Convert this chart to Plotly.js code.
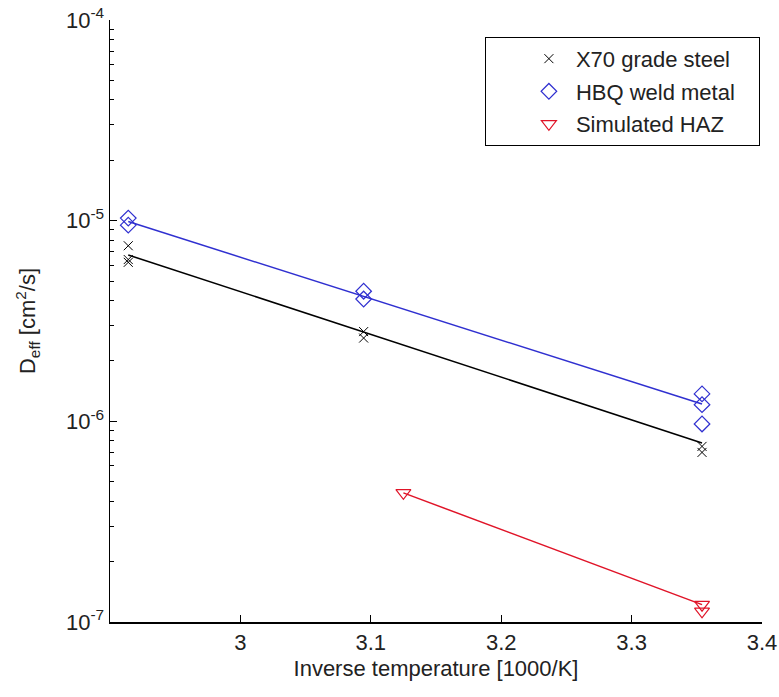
<!DOCTYPE html>
<html>
<head>
<meta charset="utf-8">
<script src="https://cdn.plot.ly/plotly-3.0.1.min.js"></script>
<style>html,body{margin:0;padding:0;background:#fff;}#chart{width:779px;height:697px;}</style>
</head>
<body>
<div id="chart"></div>
<script>
// Inverse temperature [1000/K]
const x70X = [2.914, 2.914, 2.914, 3.0945, 3.0945, 3.354, 3.354];
const x70Y = [7.5e-6, 6.4e-6, 6.2e-6, 2.8e-6, 2.6e-6, 7.5e-7, 7.0e-7];
const hbqX = [2.914, 2.914, 3.0945, 3.0945, 3.354, 3.354, 3.354];
const hbqY = [1.03e-5, 9.5e-6, 4.45e-6, 4.07e-6, 1.37e-6, 1.21e-6, 9.7e-7];
const hazX = [3.125, 3.354, 3.354];
const hazY = [4.4e-7, 1.22e-7, 1.13e-7];
// fitted lines (end points)
const x70FitX = [2.914, 3.354];
const x70FitY = [6.75e-6, 7.8e-7];
const hbqFitX = [2.914, 3.354];
const hbqFitY = [9.9e-6, 1.22e-6];
const hazFitX = [3.125, 3.354];
const hazFitY = [4.4e-7, 1.22e-7];
const xTickVals = [3, 3.1, 3.2, 3.3, 3.4];
const xTickText = ['3', '3.1', '3.2', '3.3', '3.4'];
const yTickVals = [1e-7, 1e-6, 1e-5, 1e-4];
const yTickText = ['10<sup>-7</sup>', '10<sup>-6</sup>', '10<sup>-5</sup>', '10<sup>-4</sup>'];
const seriesNames = ['X70 grade steel', 'HBQ weld metal', 'Simulated HAZ'];

const black = '#000000', blue = '#3030d0', red = '#e01428';
const font = {family: 'Liberation Sans, Arial, sans-serif', size: 22, color: '#222'};
const pad = '\u00a0\u00a0\u00a0';

const traces = [
  {x: x70FitX, y: x70FitY, mode: 'lines', line: {color: black, width: 1.5}, showlegend: false, hoverinfo: 'skip'},
  {x: hbqFitX, y: hbqFitY, mode: 'lines', line: {color: blue, width: 1.5}, showlegend: false, hoverinfo: 'skip'},
  {x: hazFitX, y: hazFitY, mode: 'lines', line: {color: red, width: 1.5}, showlegend: false, hoverinfo: 'skip'},
  {x: x70X, y: x70Y, mode: 'markers', name: seriesNames[0] + pad, legendgroup: 'a',
   marker: {symbol: 'x-thin-open', size: 9, color: black, line: {color: black, width: 1}}},
  {x: hbqX, y: hbqY, mode: 'markers', name: seriesNames[1] + pad, legendgroup: 'b',
   marker: {symbol: 'diamond-open', size: 12, color: blue, line: {color: blue, width: 1.2}}},
  {x: hazX, y: hazY, mode: 'markers', name: seriesNames[2] + pad, legendgroup: 'c',
   marker: {symbol: 'triangle-down-open', size: 13, color: red, line: {color: red, width: 1.2}}}
];

const layout = {
  width: 779, height: 697,
  margin: {l: 110, r: 17, t: 20, b: 75},
  paper_bgcolor: '#fff', plot_bgcolor: '#fff',
  font: font,
  showlegend: true,
  legend: {x: 0.575, xanchor: 'left', y: 0.972, yanchor: 'top', bgcolor: '#fff',
           bordercolor: '#000', borderwidth: 1, font: font, indentation: 36, itemwidth: 44,
           tracegroupgap: 1},
  xaxis: {
    range: [2.9, 3.4], tickmode: 'array', tickvals: xTickVals, ticktext: xTickText,
    ticks: 'inside', ticklen: 7, tickcolor: '#000', tickwidth: 1,
    showline: true, linecolor: '#000', linewidth: 1.5, mirror: false,
    showgrid: false, zeroline: false, tickfont: font,
    title: {text: 'Inverse temperature [1000/K]', font: font, standoff: 6}
  },
  yaxis: {
    type: 'log', range: [-7, -4], tickmode: 'array', tickvals: yTickVals, ticktext: yTickText,
    ticks: 'inside', ticklen: 7, tickcolor: '#000', tickwidth: 1,
    minor: {ticks: 'inside', ticklen: 4, tickmode: 'linear', tick0: 0, dtick: 'D1', tickcolor: '#000', showgrid: false},
    showline: true, linecolor: '#000', linewidth: 1.5, mirror: false,
    showgrid: false, zeroline: false, tickfont: font,
    title: {text: 'D<sub>eff</sub> [cm<sup>2</sup>/s]', font: font, standoff: 24}
  }
};

Plotly.newPlot('chart', traces, layout, {displayModeBar: false, staticPlot: true});
</script>
</body>
</html>
